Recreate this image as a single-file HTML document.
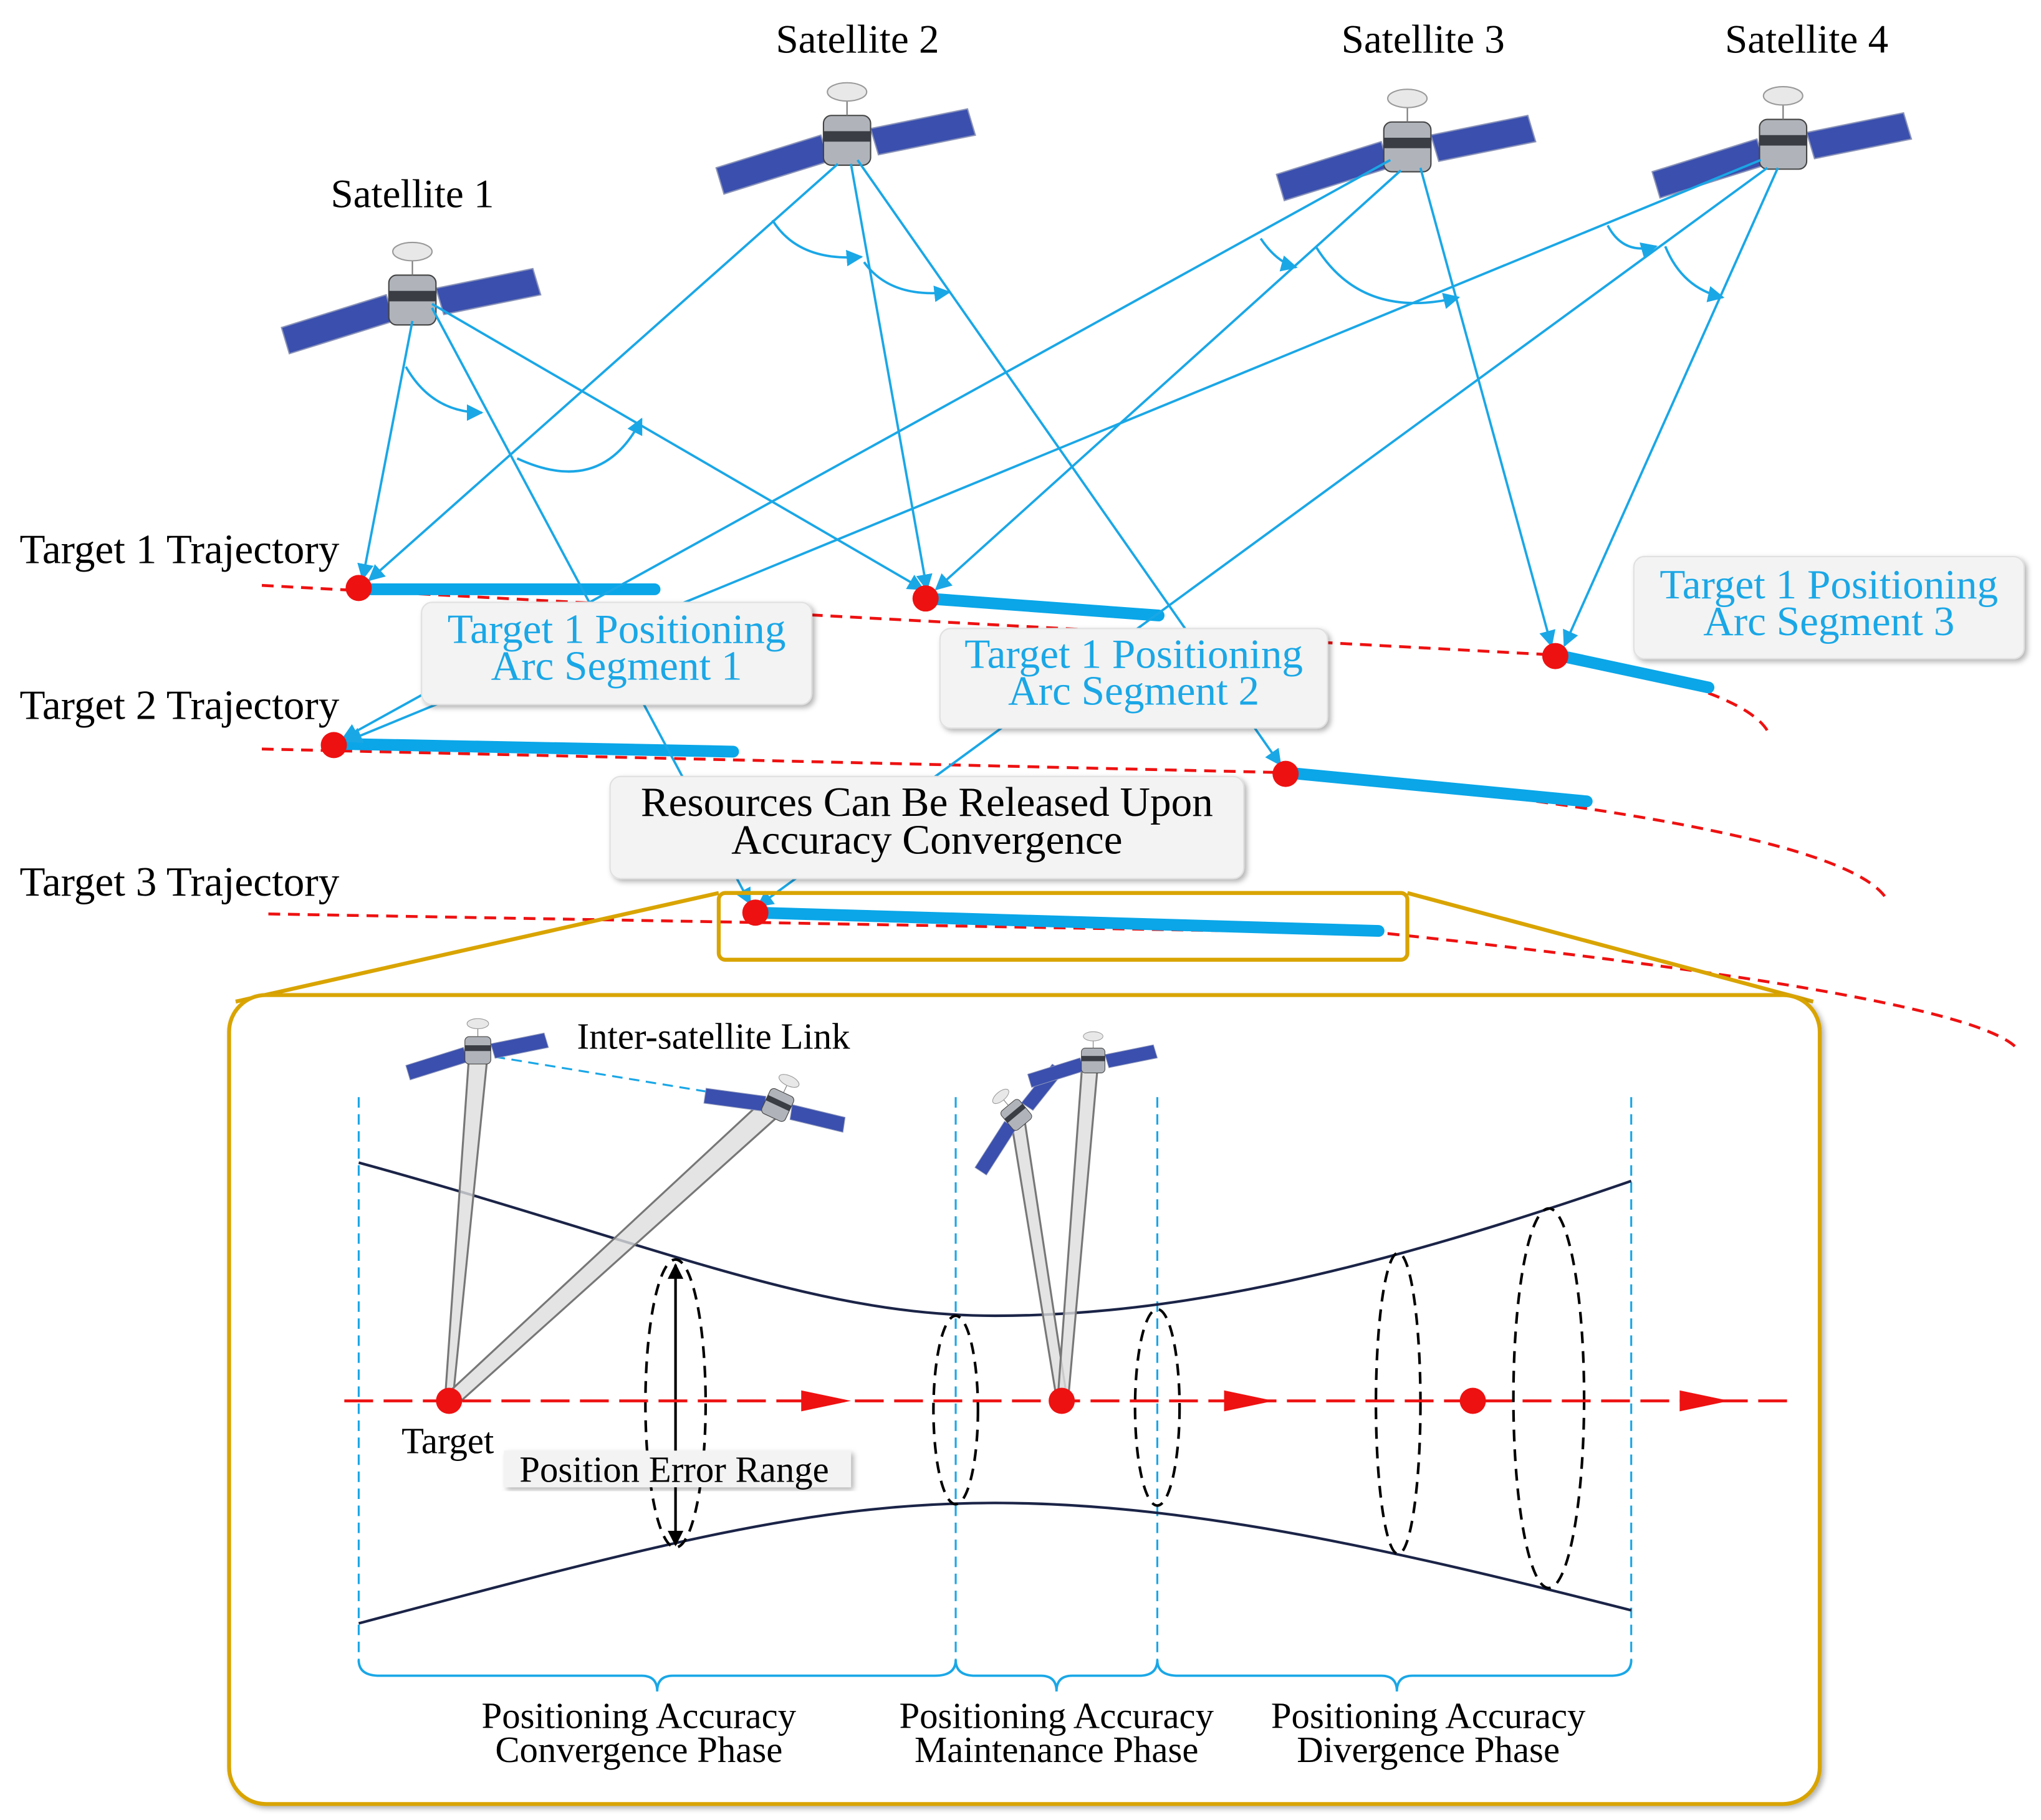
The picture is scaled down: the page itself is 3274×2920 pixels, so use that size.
<!DOCTYPE html>
<html><head><meta charset="utf-8"><style>html,body{margin:0;padding:0;background:#fff}svg{display:block}text{font-family:"Liberation Serif",serif}</style></head>
<body>
<svg width="3274" height="2920" viewBox="0 0 1559 1390" xmlns="http://www.w3.org/2000/svg">
<defs>
<marker id="ab" viewBox="0 0 10 10" refX="9" refY="5" markerWidth="7" markerHeight="7" orient="auto"><path d="M0,0L10,5L0,10z" fill="#1aa7e6"/></marker>
<marker id="ak" viewBox="0 0 10 10" refX="9" refY="5" markerWidth="6" markerHeight="6" orient="auto-start-reverse"><path d="M0,0L10,5L0,10z" fill="#000"/></marker>
<filter id="sh"><feDropShadow dx="2" dy="2" stdDeviation="2" flood-opacity="0.3"/></filter>
<g id="sat">
<path d="M-100,25 L-20,0 L-14,20 L-94,45z" fill="#3a4fae" stroke="#8a93b8" stroke-width="1"/>
<path d="M18,-5 L92,-20 L98,0 L24,15z" fill="#3a4fae" stroke="#8a93b8" stroke-width="1"/>
<rect x="-18" y="-15" width="36" height="38" rx="6" fill="#b0b4ba" stroke="#444"/>
<rect x="-18" y="-3" width="36" height="8" fill="#3a3d44"/>
<line x1="0" y1="-15" x2="0" y2="-30" stroke="#777"/>
<ellipse cx="0" cy="-33" rx="15" ry="7" fill="#e8e8e8" stroke="#999"/>
</g>
</defs>
<rect width="1559" height="1390" fill="#fff"/>
<use href="#sat" x="315" y="225"/>
<use href="#sat" x="647" y="103"/>
<use href="#sat" x="1075" y="108"/>
<use href="#sat" x="1362" y="106"/>
<g font-size="31" fill="#000" text-anchor="middle">
<text x="315" y="158">Satellite 1</text><text x="655" y="40">Satellite 2</text>
<text x="1087" y="40">Satellite 3</text><text x="1380" y="40">Satellite 4</text>
</g>
<g fill="none" stroke="#ee1111" stroke-width="2.2" stroke-dasharray="9,6">
<path d="M200,447 L1185,500 Q1330,525 1350,558"/>
<path d="M200,572 L980,590 Q1400,630 1440,685"/>
<path d="M205,698 L1060,713 Q1500,760 1540,800"/>
</g>
<g stroke="#0aa6e8" stroke-width="9" stroke-linecap="round">
<line x1="275" y1="450" x2="500" y2="450"/><line x1="708" y1="457" x2="885" y2="470"/>
<line x1="1188" y1="500" x2="1305" y2="525"/><line x1="255" y1="568" x2="560" y2="574"/>
<line x1="982" y1="590" x2="1212" y2="612"/><line x1="577" y1="697" x2="1053" y2="711"/>
</g>
<g stroke="#1aa7e6" stroke-width="1.8" fill="none" marker-end="url(#ab)">
<line x1="315" y1="245" x2="277" y2="442"/>
<line x1="330" y1="232" x2="705" y2="450"/>
<line x1="330" y1="235" x2="573" y2="690"/>
<line x1="640" y1="125" x2="282" y2="443"/>
<line x1="650" y1="125" x2="708" y2="450"/>
<line x1="655" y1="122" x2="978" y2="584"/>
<line x1="1062" y1="122" x2="262" y2="564"/>
<line x1="1070" y1="130" x2="715" y2="450"/>
<line x1="1085" y1="128" x2="1185" y2="493"/>
<line x1="1345" y1="122" x2="265" y2="566"/>
<line x1="1350" y1="128" x2="579" y2="692"/>
<line x1="1358" y1="128" x2="1195" y2="493"/>
<path d="M310,280 Q330,315 368,315"/>
<path d="M395,350 Q460,380 490,320"/>
<path d="M590,168 Q610,200 658,196"/>
<path d="M660,200 Q680,228 725,223"/>
<path d="M963,182 Q975,200 990,204"/>
<path d="M1005,188 Q1040,245 1114,227"/>
<path d="M1228,172 Q1240,195 1265,188"/>
<path d="M1272,188 Q1285,220 1316,227"/>
</g>
<g fill="#ee1111"><circle cx="274" cy="449" r="10"/><circle cx="707" cy="457" r="10"/><circle cx="1188" cy="501" r="10"/><circle cx="255" cy="569" r="10"/><circle cx="982" cy="591" r="10"/><circle cx="577" cy="697" r="10"/></g>
<g fill="#f3f3f3" stroke="#e0e0e0" filter="url(#sh)">
<rect x="322" y="460" width="298" height="78" rx="8"/>
<rect x="718" y="480" width="296" height="76" rx="8"/>
<rect x="1248" y="425" width="298" height="78" rx="8"/>
<rect x="466" y="593" width="484" height="78" rx="8"/>
</g>
<g font-size="32" fill="#1aa7e6" text-anchor="middle">
<text x="471" y="491">Target 1 Positioning</text><text x="471" y="519">Arc Segment 1</text>
<text x="866" y="510">Target 1 Positioning</text><text x="866" y="538">Arc Segment 2</text>
<text x="1397" y="457">Target 1 Positioning</text><text x="1397" y="485">Arc Segment 3</text>
</g>
<g font-size="32" fill="#000"><text x="708" y="623" text-anchor="middle">Resources Can Be Released Upon</text><text x="708" y="652" text-anchor="middle">Accuracy Convergence</text>
<text x="15" y="430">Target 1 Trajectory</text><text x="15" y="549">Target 2 Trajectory</text><text x="15" y="684">Target 3 Trajectory</text></g>
<g stroke="#d9a400" stroke-width="3" fill="none">
<rect x="549" y="682" width="526" height="51" rx="5"/>
<line x1="549" y1="682" x2="180" y2="765"/><line x1="1075" y1="682" x2="1385" y2="765"/>
<rect x="175" y="760" width="1215" height="618" rx="28" fill="#fff" filter="url(#sh)"/>
</g>
<g stroke="#1aa7e6" stroke-width="1.5" stroke-dasharray="8,5"><line x1="274" y1="838" x2="274" y2="1270"/><line x1="730" y1="838" x2="730" y2="1270"/><line x1="884" y1="838" x2="884" y2="1270"/><line x1="1246" y1="838" x2="1246" y2="1270"/>
<line x1="365" y1="805" x2="590" y2="842"/></g>
<g fill="none" stroke="#1aa7e6" stroke-width="1.8">
<path d="M274,1268 Q274,1280 290,1280 L490,1280 Q502,1280 502,1292 Q502,1280 514,1280 L714,1280 Q730,1280 730,1268"/>
<path d="M730,1268 Q730,1280 745,1280 L795,1280 Q807,1280 807,1292 Q807,1280 819,1280 L870,1280 Q884,1280 884,1268"/>
<path d="M884,1268 Q884,1280 900,1280 L1055,1280 Q1067,1280 1067,1292 Q1067,1280 1079,1280 L1230,1280 Q1246,1280 1246,1268"/>
</g>
<g fill="none" stroke="#1b2447" stroke-width="2"><path d="M274,888 C500,950 620,1005 760,1005 C900,1005 1050,970 1246,902"/><path d="M274,1240 C500,1180 620,1148 760,1148 C900,1148 1050,1180 1246,1230"/></g>
<g fill="#ddd" fill-opacity="0.8" stroke="#777" stroke-width="1.5">
<path d="M358,810 L372,810 L346,1068 L340,1068z"/>
<path d="M580,843 L595,852 L350,1072 L340,1066z"/>
<path d="M773,860 L783,858 L815,1068 L807,1068z"/>
<path d="M827,808 L839,808 L816,1068 L808,1068z"/>
</g>
<g transform="translate(365,800) scale(0.55)"><use href="#sat"/></g>
<g transform="translate(595,842) scale(0.55) rotate(25)"><use href="#sat"/></g>
<g transform="translate(775,850) scale(0.5) rotate(-40)"><use href="#sat"/></g>
<g transform="translate(835,808) scale(0.5)"><use href="#sat"/></g>
<g fill="none" stroke="#000" stroke-width="2" stroke-dasharray="9,6">
<ellipse cx="516" cy="1072" rx="23" ry="110"/><ellipse cx="730" cy="1077" rx="17" ry="72"/><ellipse cx="884" cy="1075" rx="17" ry="75"/><ellipse cx="1068" cy="1072" rx="17" ry="115"/><ellipse cx="1183" cy="1068" rx="27" ry="145"/>
</g>
<line x1="516" y1="966" x2="516" y2="1180" stroke="#000" stroke-width="2" marker-start="url(#ak)" marker-end="url(#ak)"/>
<line x1="263" y1="1070" x2="1365" y2="1070" stroke="#ee1111" stroke-width="2.2" stroke-dasharray="22,8"/>
<g fill="#ee1111"><path d="M612,1062 L650,1070 L612,1078z"/><path d="M935,1062 L973,1070 L935,1078z"/><path d="M1283,1062 L1321,1070 L1283,1078z"/>
<circle cx="343" cy="1070" r="10"/><circle cx="811" cy="1070" r="10"/><circle cx="1125" cy="1070" r="10"/></g>
<rect x="385" y="1108" width="265" height="28" fill="#f3f3f3" filter="url(#sh)"/>
<g font-size="28" fill="#000" text-anchor="middle">
<text x="545" y="801">Inter-satellite Link</text><text x="342" y="1110">Target</text><text x="515" y="1132">Position Error Range</text>
<text x="488" y="1320">Positioning Accuracy</text><text x="488" y="1346">Convergence Phase</text>
<text x="807" y="1320">Positioning Accuracy</text><text x="807" y="1346">Maintenance Phase</text>
<text x="1091" y="1320">Positioning Accuracy</text><text x="1091" y="1346">Divergence Phase</text>
</g>
</svg>
</body></html>
